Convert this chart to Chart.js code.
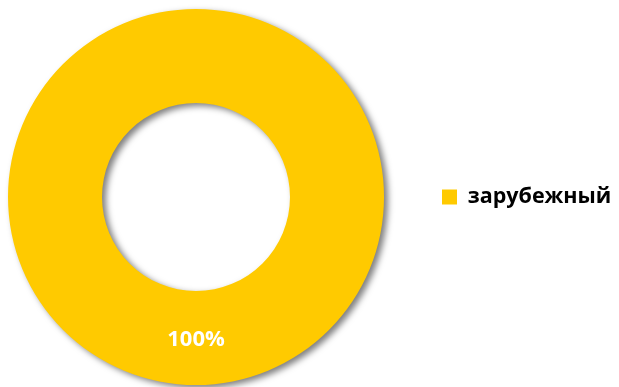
<!DOCTYPE html>
<html>
<head>
<meta charset="utf-8">
<script src="https://cdn.jsdelivr.net/npm/chart.js@4/dist/chart.umd.min.js"></script>
<style>
  html, body { margin: 0; padding: 0; background: #fff; }
  #wrap { width: 619px; height: 387px; }
</style>
</head>
<body>
<div id="wrap"><canvas id="chart" width="619" height="387"></canvas></div>
<script>
// data
const categories = ['зарубежный'];
const shares     = [100];
const pctLabels  = ['100%'];
const colors     = ['#FFCA00'];

// drop shadow under the ring
const ringShadow = {
  id: 'ringShadow',
  beforeDatasetsDraw(chart) {
    const ctx = chart.ctx;
    ctx.save();
    ctx.shadowColor = 'rgba(0,0,0,0.5)';
    ctx.shadowBlur = 6;
    ctx.shadowOffsetX = 4;
    ctx.shadowOffsetY = 3;
  },
  afterDatasetsDraw(chart) {
    chart.ctx.restore();
  }
};

// white percent label in the middle of each slice
const sliceLabels = {
  id: 'sliceLabels',
  afterDraw(chart) {
    const ctx = chart.ctx;
    const meta = chart.getDatasetMeta(0);
    ctx.save();
    ctx.fillStyle = '#ffffff';
    ctx.font = 'bold 22px "Open Sans"';
    ctx.textAlign = 'center';
    ctx.textBaseline = 'middle';
    meta.data.forEach((arc, i) => {
      const p = arc.tooltipPosition();
      ctx.fillText(pctLabels[i], p.x, p.y + 2);
    });
    ctx.restore();
  }
};

new Chart(document.getElementById('chart'), {
  type: 'doughnut',
  data: {
    labels: categories,
    datasets: [{
      data: shares,
      backgroundColor: colors,
      borderWidth: 0,
      hoverOffset: 0,
    }],
  },
  options: {
    responsive: false,
    animation: false,
    cutout: '50%',
    layout: { padding: { left: 0, right: 0, top: 9, bottom: 2 } },
    plugins: {
      legend: {
        position: 'right',
        maxWidth: 227,
        labels: {
          color: '#000000',
          boxWidth: 15,
          boxHeight: 15,
          padding: 50,
          font: { family: 'Open Sans', size: 21.5, weight: 'bold' },
        },
      },
      tooltip: { enabled: false },
    },
  },
  plugins: [ringShadow, sliceLabels],
});
</script>
</body>
</html>
